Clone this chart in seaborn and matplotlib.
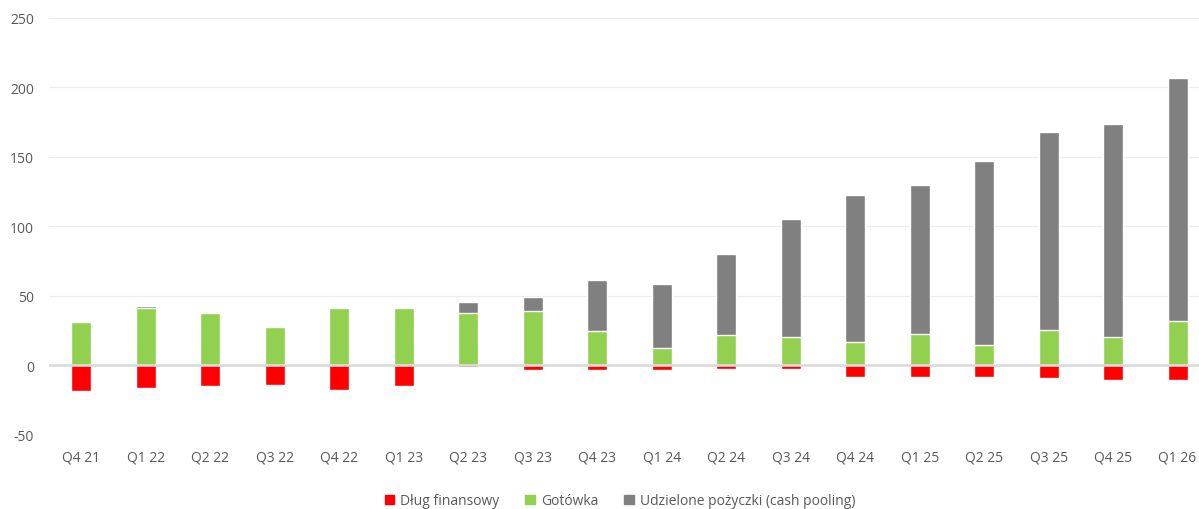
import matplotlib
matplotlib.use('Agg')
import matplotlib.pyplot as plt
from matplotlib.patches import Patch
import pandas as pd
import seaborn as sns

# Data
quarters = ['Q4 21', 'Q1 22', 'Q2 22', 'Q3 22', 'Q4 22', 'Q1 23', 'Q2 23', 'Q3 23', 'Q4 23',
            'Q1 24', 'Q2 24', 'Q3 24', 'Q4 24', 'Q1 25', 'Q2 25', 'Q3 25', 'Q4 25', 'Q1 26']
debt = [-19.0, -16.5, -15.3, -14.1, -17.7, -15.3, -1.7, -3.8, -3.8,
        -3.8, -2.6, -2.6, -8.6, -8.6, -8.6, -9.6, -10.8, -10.8]
cash = [30.7, 41.0, 37.4, 27.1, 40.7, 40.7, 37.4, 38.6, 24.7,
        12.2, 21.6, 20.1, 16.8, 22.5, 14.4, 24.9, 20.1, 31.6]
loans = [0.0, 1.2, 0.0, 0.0, 0.0, 0.0, 7.9, 10.3, 36.7,
         45.8, 58.2, 85.1, 105.7, 106.9, 132.3, 142.7, 153.2, 175.0]

labels = ['Dług finansowy', 'Gotówka', 'Udzielone pożyczki (cash pooling)']
colors = ['#ff0000', '#92d050', '#808080']

df = pd.DataFrame({'quarter': quarters, 'debt': debt, 'cash': cash, 'loans': loans})
df['top'] = df['cash'] + df['loans']

sns.set_style('white')
plt.rcParams['font.family'] = ['Open Sans', 'DejaVu Sans']
plt.rcParams['axes.unicode_minus'] = False

fig = plt.figure(figsize=(11.99, 5.10), dpi=100)
# right edge of the plot runs a bit past the picture, as in the original
ax = fig.add_axes([0.041, 0.146, 0.968, 0.8175])

# grid behind bars
for v in [-50, 50, 100, 150, 200, 250]:
    ax.axhline(v, color='#ececec', lw=0.9, zorder=0)

# stacked: total first, then cash on top of it
sns.barplot(data=df, x='quarter', y='top', color=colors[2], width=0.31,
            saturation=1, ax=ax, zorder=2)
sns.barplot(data=df, x='quarter', y='cash', color=colors[1], width=0.31,
            saturation=1, ax=ax, zorder=3)
sns.barplot(data=df, x='quarter', y='debt', color=colors[0], width=0.31,
            saturation=1, ax=ax, zorder=3)

ax.axhline(0, color='#d9d9d9', lw=1.8, zorder=4)

ax.set_ylim(-50, 250)
ax.set_xlim(-0.5, len(quarters) - 0.5)
ax.set_yticks([-50, 0, 50, 100, 150, 200, 250])
ax.set_xlabel('')
ax.set_ylabel('')
ax.tick_params(axis='both', length=0, labelsize=10, labelcolor='#595959')
ax.tick_params(axis='x', pad=11)
ax.tick_params(axis='y', pad=11)
sns.despine(ax=ax, left=True, bottom=True)

handles = [Patch(color=c, label=l) for c, l in zip(colors, labels)]
fig.legend(handles=handles, loc='center', bbox_to_anchor=(0.517, 0.016), ncol=3,
           frameon=False, fontsize=10, handlelength=0.7, handleheight=0.7,
           handletextpad=0.4, columnspacing=1.9, labelcolor='#595959')

fig.savefig('out.png', dpi=100)
